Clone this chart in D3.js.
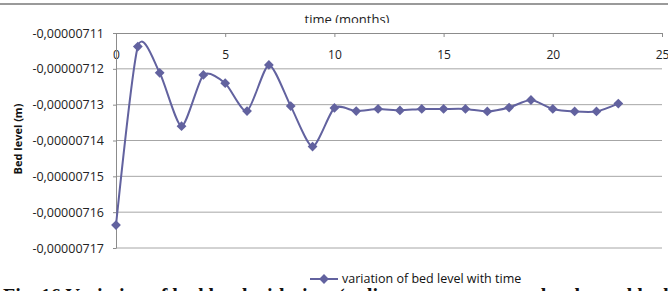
<!DOCTYPE html>
<html>
<head>
<meta charset="utf-8">
<script src="https://cdn.jsdelivr.net/npm/d3@7"></script>
<style>
  body { margin: 0; background: #fff; }
  svg { display: block; }
</style>
</head>
<body>
<script>
// months since start
const months = [0, 1, 2, 3, 4, 5, 6, 7, 8, 9, 10, 11, 12, 13, 14, 15, 16, 17, 18, 19, 20, 21, 22, 23];
// bed level (m)
const bedLevel = [
    -7.1636e-6, -7.1138e-6, -7.1211e-6, -7.1360e-6, -7.1217e-6, -7.1240e-6,
    -7.1318e-6, -7.1189e-6, -7.1304e-6, -7.1417e-6, -7.1309e-6, -7.1318e-6,
    -7.1312e-6, -7.1316e-6, -7.1312e-6, -7.1312e-6, -7.1312e-6, -7.1319e-6,
    -7.1308e-6, -7.1287e-6, -7.1312e-6, -7.1319e-6, -7.1319e-6, -7.1297e-6
];
const xTicks = [0, 5, 10, 15, 20, 25];
const yTicks = [-7.11e-6, -7.12e-6, -7.13e-6, -7.14e-6, -7.15e-6, -7.16e-6, -7.17e-6];

const width = 668, height = 291;
const lineColor = "#62629f";

const svg = d3.select("body").append("svg")
    .attr("width", width)
    .attr("height", height)
    .style("font-family", "'Open Sans', sans-serif");

// scales
const x = d3.scaleLinear().domain([0, 25]).range([116, 662]);
const y = d3.scaleLinear().domain([-7.17e-6, -7.11e-6]).range([248, 33]);

const locale = d3.formatLocale({ decimal: ",", thousands: ".", grouping: [3], currency: ["", ""], minus: "-" });
const fmt = locale.format(".8f");

// outer frame top edge
svg.append("line")
    .attr("x1", 0).attr("x2", width)
    .attr("y1", 4).attr("y2", 4)
    .attr("stroke", "#9a9a9a")
    .attr("stroke-width", 2);

// x title (clipped like the original crop)
svg.append("clipPath").attr("id", "titleClip")
    .append("rect").attr("x", 0).attr("y", 0).attr("width", width).attr("height", 23);
svg.append("text")
    .attr("clip-path", "url(#titleClip)")
    .attr("x", 347).attr("y", 24)
    .attr("text-anchor", "middle")
    .attr("font-size", 13)
    .attr("fill", "#222")
    .text("time (months)");

// gridlines
svg.append("g")
    .selectAll("line")
    .data(yTicks.slice(1))
    .join("line")
    .attr("x1", x(0)).attr("x2", x(25))
    .attr("y1", d => y(d)).attr("y2", d => y(d))
    .attr("stroke", "#a6a6a6")
    .attr("stroke-width", 1);

// x axis at the top of the plot
const xAxis = svg.append("g")
    .attr("transform", `translate(0,${y(-7.11e-6)})`)
    .call(d3.axisBottom(x).tickValues(xTicks).tickSize(4).tickPadding(13).tickSizeOuter(0));
xAxis.select(".domain").attr("stroke", "#8c8c8c");
xAxis.selectAll(".tick line").attr("stroke", "#8c8c8c");
xAxis.selectAll("text")
    .attr("font-family", "'Open Sans', sans-serif")
    .attr("font-size", 12)
    .attr("fill", "#222");

// y axis
const yAxis = svg.append("g")
    .attr("transform", `translate(${x(0)},0)`)
    .call(d3.axisLeft(y).tickValues(yTicks).tickFormat(fmt).tickSize(3).tickPadding(9).tickSizeOuter(0));
yAxis.select(".domain").attr("stroke", "#8c8c8c");
yAxis.selectAll(".tick line").attr("stroke", "#8c8c8c");
yAxis.selectAll("text")
    .attr("font-family", "'Open Sans', sans-serif")
    .attr("font-size", 12.5)
    .attr("fill", "#222");

// y title
svg.append("text")
    .attr("transform", "translate(22,139) rotate(-90)")
    .attr("text-anchor", "middle")
    .attr("font-size", 11)
    .attr("font-weight", "bold")
    .attr("fill", "#111")
    .text("Bed level (m)");

// series, smoothed like the spreadsheet chart
const data = months.map((m, i) => ({ m, v: bedLevel[i] }));
const line = d3.line()
    .x(d => x(d.m))
    .y(d => y(d.v))
    .curve(d3.curveCardinal.tension(0.3));

svg.append("path")
    .datum(data)
    .attr("fill", "none")
    .attr("stroke", lineColor)
    .attr("stroke-width", 2)
    .attr("d", line);

const marker = d3.symbol().type(d3.symbolSquare).size(48);
svg.append("g")
    .selectAll("path")
    .data(data)
    .join("path")
    .attr("transform", d => `translate(${x(d.m)},${y(d.v)}) rotate(45)`)
    .attr("d", marker)
    .attr("fill", lineColor);

// legend
const legend = svg.append("g").attr("transform", "translate(310,279)");
legend.append("line")
    .attr("x1", 0).attr("x2", 28)
    .attr("stroke", lineColor).attr("stroke-width", 2);
legend.append("path")
    .attr("transform", "translate(14,0) rotate(45)")
    .attr("d", marker)
    .attr("fill", lineColor);
legend.append("text")
    .attr("x", 32).attr("y", 4)
    .attr("font-size", 12.5)
    .attr("fill", "#111")
    .text("variation of bed level with time");

// figure caption, cut by the bottom edge
svg.append("text")
    .attr("x", 3).attr("y", 303)
    .attr("font-family", "'Liberation Serif', serif")
    .attr("font-size", 20)
    .attr("font-weight", "bold")
    .attr("fill", "#111")
    .text("Fig. 16 Variation of bed level with time (sediment transport at the channel bed)");
</script>
</body>
</html>
